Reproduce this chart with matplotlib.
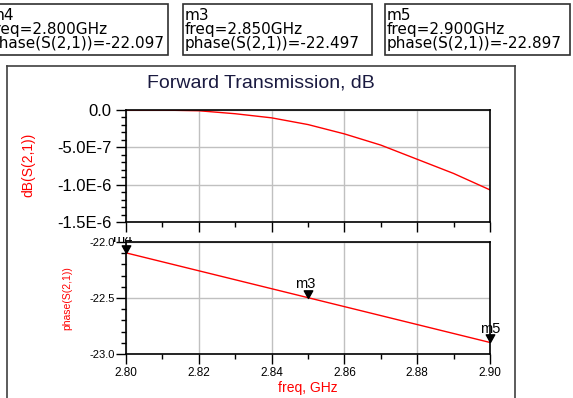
import matplotlib
matplotlib.use("Agg")
import matplotlib.pyplot as plt
from matplotlib.lines import Line2D
from matplotlib.patches import Rectangle
from matplotlib.path import Path

plt.rcParams['font.family'] = ['Liberation Sans', 'DejaVu Sans']

freq = [2.80, 2.81, 2.82, 2.83, 2.84, 2.85, 2.86, 2.87, 2.88, 2.89, 2.90]
db_s21 = [0.0, -1e-9, -1e-8, -5e-8, -1.05e-7, -1.95e-7, -3.2e-7, -4.7e-7,
          -6.6e-7, -8.5e-7, -1.07e-6]
phase_s21 = [-22.097, -22.177, -22.257, -22.337, -22.417, -22.497, -22.577,
             -22.657, -22.737, -22.817, -22.897]

marker_names = ['m4', 'm3', 'm5']
marker_freq = [2.80, 2.85, 2.90]
marker_phase = [-22.097, -22.497, -22.897]

db_ticks = [0.0, -5e-7, -1e-6, -1.5e-6]
db_ticklabels = ['0.0', '-5.0E-7', '-1.0E-6', '-1.5E-6']
ph_ticks = [-22.0, -22.5, -23.0]
ph_ticklabels = ['-22.0', '-22.5', '-23.0']
f_ticks = [2.80, 2.82, 2.84, 2.86, 2.88, 2.90]
f_ticklabels = ['2.80', '2.82', '2.84', '2.86', '2.88', '2.90']

W, H = 573, 398
fig = plt.figure(figsize=(W / 100, H / 100), dpi=100)


def fx(px):
    return px / W


def fy(py):
    return 1 - py / H


# outer frame of the plot window (bottom edge is off the picture)
for (x0, y0, x1, y1) in [(7, 66, 7, 400), (7, 66, 515, 66), (515, 66, 515, 400)]:
    fig.add_artist(Line2D([fx(x0), fx(x1)], [fy(y0), fy(y1)], color='#404040', lw=1.2))

fig.text(fx(261), fy(83), 'Forward Transmission, dB', ha='center', va='center',
         fontsize=14, color='#1a1a40')

# marker readout boxes
boxes = [(-21, 168), (183, 372), (385, 570)]
for (x0, x1), name, f, p in zip(boxes, marker_names, marker_freq, marker_phase):
    fig.add_artist(Rectangle((fx(x0), fy(55)), fx(x1 - x0), (55 - 4) / H,
                             fill=False, edgecolor='#303030', lw=1.2))
    tx = -10 if x0 < 0 else x0 + 2
    txt = f'{name}\nfreq={f:.3f}GHz\nphase(S(2,1))={p:.3f}'
    fig.text(fx(tx), fy(8), txt, ha='left', va='top', fontsize=11,
             family='DejaVu Sans', linespacing=0.92)


def style_axes(ax):
    ax.set_xlim(2.80, 2.90)
    ax.set_xticks(f_ticks)
    ax.set_xticks([2.81, 2.83, 2.85, 2.87, 2.89], minor=True)
    ax.grid(True, which='major', color='#c0c0c0', lw=1.0)
    ax.tick_params(which='major', direction='out', length=7, width=1)
    ax.tick_params(which='minor', direction='out', length=3.5, width=1)
    for s in ax.spines.values():
        s.set_linewidth(1.2)


ax1 = fig.add_axes([fx(126), fy(222), fx(490 - 126), (222 - 110) / H])
ax1.plot(freq, db_s21, color='red', lw=1.0)
style_axes(ax1)
ax1.set_ylim(-1.5e-6, 0.0)
ax1.set_yticks(db_ticks)
ax1.set_yticklabels(db_ticklabels, fontsize=12)
ax1.set_yticks([-1e-7 * k for k in range(1, 15) if k % 5], minor=True)
ax1.set_xticklabels([])

ax2 = fig.add_axes([fx(126), fy(354), fx(490 - 126), (354 - 242) / H])
ax2.plot(freq, phase_s21, color='red', lw=1.0)
style_axes(ax2)
ax2.set_ylim(-23.0, -22.0)
ax2.set_yticks(ph_ticks)
ax2.set_yticklabels(ph_ticklabels, fontsize=8)
ax2.set_yticks([-22.1, -22.2, -22.3, -22.4, -22.6, -22.7, -22.8, -22.9], minor=True)
ax2.set_xticklabels(f_ticklabels, fontsize=8.5)
ax2.tick_params(axis='x', pad=2)
ax2.tick_params(axis='y', pad=1)

# down triangle with its tip on the data point
tri = Path([(-0.5, 0.9), (0.5, 0.9), (0.0, 0.0), (-0.5, 0.9)], closed=True)
ax2.plot(marker_freq, marker_phase, linestyle='none', marker=tri, color='black',
         markersize=11, clip_on=False, zorder=5)
label_dx = [-3, -2, 0]
for name, f, p, dx in zip(marker_names, marker_freq, marker_phase, label_dx):
    t = ax2.annotate(name, (f, p), xytext=(dx, 5), textcoords='offset points',
                     ha='center', va='bottom', fontsize=10.5,
                     annotation_clip=False)
    if name == 'm4':
        # only the bottom sliver of this label shows above the axes
        t.set_clip_path(Rectangle((fx(100), fy(242)), fx(50), 5 / H,
                                  transform=fig.transFigure))

fig.text(fx(28), fy(165), 'dB(S(2,1))', rotation=90, ha='center', va='center',
         color='red', fontsize=10)
fig.text(fx(67), fy(298), 'phase(S(2,1))', rotation=90, ha='center', va='center',
         color='red', fontsize=7.5)
fig.text(fx(308), fy(388), 'freq, GHz', ha='center', va='center',
         color='red', fontsize=10)

fig.savefig('out.png', dpi=100)
